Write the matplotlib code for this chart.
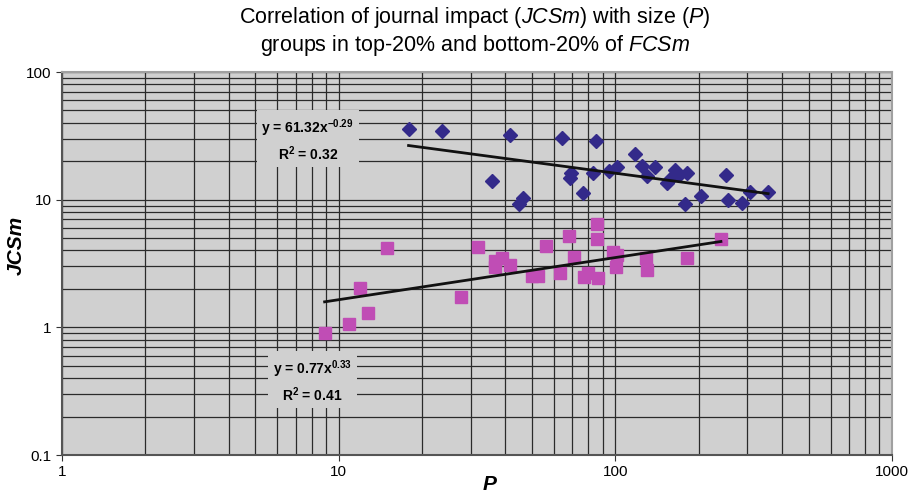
import numpy as np
import matplotlib.pyplot as plt
from matplotlib.ticker import LogLocator, FixedLocator, FixedFormatter, NullFormatter

plt.rcParams['font.family'] = ['Liberation Sans', 'DejaVu Sans']
plt.rcParams['mathtext.fontset'] = 'custom'
plt.rcParams['mathtext.rm'] = 'Liberation Sans'
plt.rcParams['mathtext.it'] = 'Liberation Sans:italic'
plt.rcParams['mathtext.bf'] = 'Liberation Sans:bold'

# top-20% FCSm group (blue diamonds)
top_p = [17.9, 23.7, 41.8, 64.4, 85.4, 35.7, 46.5, 44.7, 69.4, 68.8,
         76.6, 83.3, 95.1, 101.7, 118, 125, 130.5, 139, 154, 158,
         165, 170, 182, 179, 204, 252, 256, 287, 307, 357]
top_jcsm = [35.6, 34.3, 31.9, 30.2, 28.6, 14.1, 10.4, 9.3, 16.3, 14.9,
            11.2, 16.3, 16.9, 17.9, 22.6, 18.2, 15.2, 17.9, 13.6, 14.6,
            17.2, 15.7, 16.3, 9.3, 10.7, 15.5, 10.0, 9.5, 11.4, 11.4]

# bottom-20% FCSm group (pink squares)
bot_p = [8.9, 10.9, 12.8, 11.9, 14.9, 27.8, 31.8, 36.9, 36.9, 38.8,
         41.8, 50.2, 52.7, 56.4, 63.3, 68.2, 71.1, 77.3, 79.9, 86.8,
         86.1, 86.1, 98.4, 101.7, 100.8, 129.4, 130.5, 182, 241]
bot_jcsm = [0.90, 1.07, 1.29, 2.03, 4.19, 1.72, 4.26, 3.31, 2.97, 3.49,
            3.08, 2.52, 2.52, 4.34, 2.66, 5.21, 3.56, 2.48, 2.66, 2.43,
            6.47, 4.93, 3.90, 3.69, 2.97, 3.49, 2.81, 3.49, 4.93]

# power-law fits as printed on the chart
top_fit = (61.32, -0.29, 0.32)
bot_fit = (0.77, 0.33, 0.41)

fig = plt.figure(figsize=(9.17, 4.95), dpi=100)
ax = fig.add_axes([0.0676, 0.0808, 0.905, 0.7737])
ax.set_facecolor('#d0d0d0')
ax.set_xscale('log')
ax.set_yscale('log')
ax.set_xlim(1, 1000)
ax.set_ylim(0.1, 100)

ax.grid(True, which='both', color='#2a2a2a', lw=0.9)
ax.set_axisbelow(True)

ax.plot(top_p, top_jcsm, 'D', color='#332a8a', ms=7, zorder=3)
ax.plot(bot_p, bot_jcsm, 's', color='#c04db5', ms=8, zorder=3)

for xs, (a, b, r2) in [(top_p, top_fit), (bot_p, bot_fit)]:
    xx = np.array([min(xs), max(xs)])
    ax.plot(xx, a * xx ** b, color='#111111', lw=2, zorder=4)

box = dict(facecolor='#d0d0d0', edgecolor='none', boxstyle='square,pad=0.35')
ax.text(0.296, 0.822, 'y = 61.32x$^{\\mathbf{-0.29}}$\nR$^{\\mathbf{2}}$ = 0.32',
        transform=ax.transAxes, ha='center', va='center', ma='center',
        fontsize=10, fontweight='bold', bbox=box, linespacing=1.3, zorder=5)
ax.text(0.302, 0.193, 'y = 0.77x$^{\\mathbf{0.33}}$\nR$^{\\mathbf{2}}$ = 0.41',
        transform=ax.transAxes, ha='center', va='center', ma='center',
        fontsize=10, fontweight='bold', bbox=box, linespacing=1.3, zorder=5)

ax.xaxis.set_major_locator(FixedLocator([1, 10, 100, 1000]))
ax.xaxis.set_major_formatter(FixedFormatter(['1', '10', '100', '1000']))
ax.yaxis.set_major_locator(FixedLocator([0.1, 1, 10, 100]))
ax.yaxis.set_major_formatter(FixedFormatter(['0.1', '1', '10', '100']))
for axis in (ax.xaxis, ax.yaxis):
    axis.set_minor_locator(LogLocator(base=10, subs=np.arange(2, 10)))
    axis.set_minor_formatter(NullFormatter())
ax.tick_params(which='minor', length=0)
ax.tick_params(which='major', length=4, labelsize=11, color='#333333')

for s in ['top', 'right']:
    ax.spines[s].set_color('#a0a0a0')
    ax.spines[s].set_linewidth(1.5)
for s in ['left', 'bottom']:
    ax.spines[s].set_color('#555555')
    ax.spines[s].set_linewidth(1.5)

fig.text(490 / 917, 1 - 484 / 495, 'P', fontsize=15, fontweight='bold',
         fontstyle='italic', ha='center', va='center')
fig.text(16 / 917, 1 - 245 / 495, 'JCSm', fontsize=15, fontweight='bold',
         fontstyle='italic', ha='center', va='center', rotation=90)

fig.text(0.518, 0.99, 'Correlation of journal impact ($\\mathit{JCSm}$) with size ($\\mathit{P}$)\n'
         'groups in top-20% and bottom-20% of $\\mathit{FCSm}$',
         ha='center', va='top', fontsize=15.5, linespacing=1.15)

fig.savefig('out.png', dpi=100)
